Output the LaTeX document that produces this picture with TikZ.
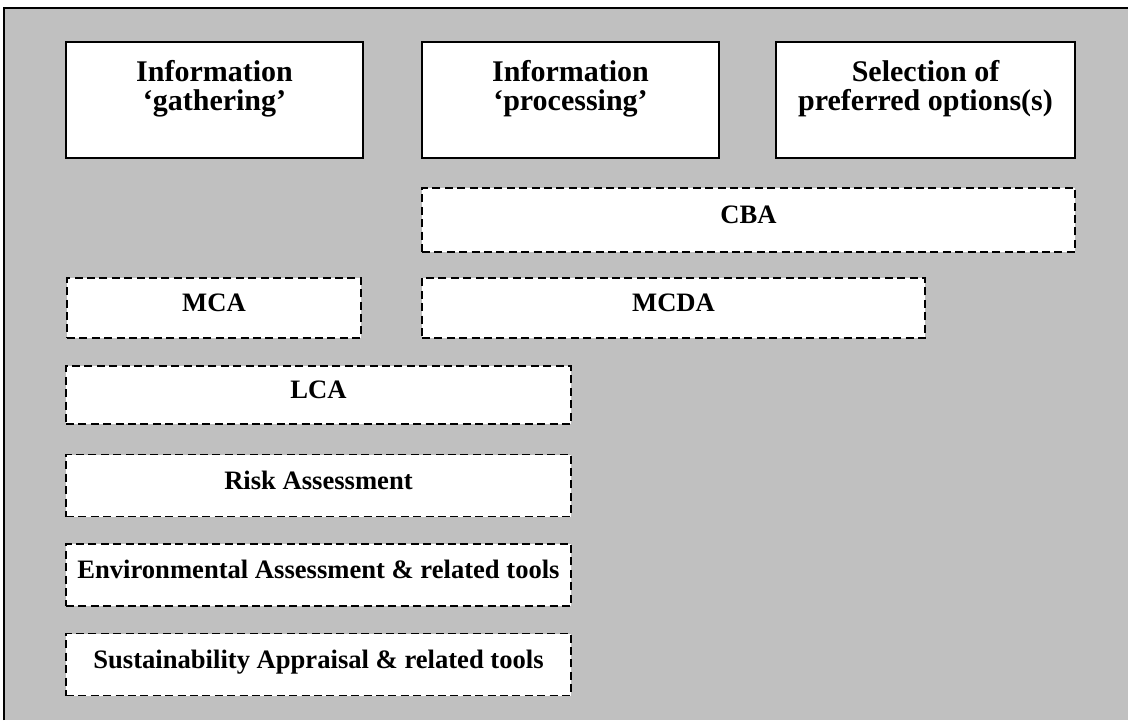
\documentclass[tikz,border=0pt]{standalone}
\usepackage{fontspec}
\setmainfont{Liberation Serif}
\usepackage{xcolor}
\usetikzlibrary{positioning}

\definecolor{panelgray}{HTML}{C0C0C0}

\begin{document}
\begin{tikzpicture}[x=0.5pt, y=-0.5pt, on grid,
    stage/.style={rectangle, draw, line width=0.75pt, fill=white, align=center,
        minimum width=148.5pt, minimum height=58pt, inner sep=0pt,
        font=\fontsize{15}{14.2}\selectfont\bfseries, text height=20pt, text depth=10pt},
    tool/.style={rectangle, draw, line width=0.6pt, dash pattern=on 4pt off 2.2pt,
        fill=white, inner sep=0pt, minimum height=31pt,
        font=\fontsize{13.3}{15}\selectfont\bfseries, text height=0.7em, text depth=0.35em}]

        \useasboundingbox (0,0) rectangle (1128,720);
        \fill[white] (0,0) rectangle (1128,720);
        \fill[panelgray] (4,8) rectangle (1128,720);
        \draw[line width=0.75pt] (4,720) -- (4,8) -- (1128,8);

        % stages
        \node[stage] (gather) at (214.5,100) {Information\\‘gathering’};
        \node[stage, right=178pt of gather] (process) {Information\\‘processing’};
        \node[stage, right=177.5pt of process, minimum width=149.5pt] (select) {Selection of\\preferred options(s)};

        % tools
        \node[tool, minimum width=326.5pt, minimum height=32pt] (cba) at (748.5,220) {CBA};
        \node[tool, minimum width=147pt, minimum height=30pt] (mca) at (214,308) {MCA};
        \node[tool, minimum width=251.5pt, minimum height=30pt] (mcda) at (673.5,308) {MCDA};
        \node[tool, minimum width=252.5pt, minimum height=29pt] (lca) at (318.5,395) {LCA};
        \node[tool, minimum width=252.5pt] (risk) at (318.5,485.5) {Risk Assessment};
        \node[tool, minimum width=252.5pt] (env) at (318.5,575) {Environmental Assessment \& related tools};
        \node[tool, minimum width=252.5pt] (sust) at (318.5,664.5) {Sustainability Appraisal \& related tools};

\end{tikzpicture}
\end{document}
